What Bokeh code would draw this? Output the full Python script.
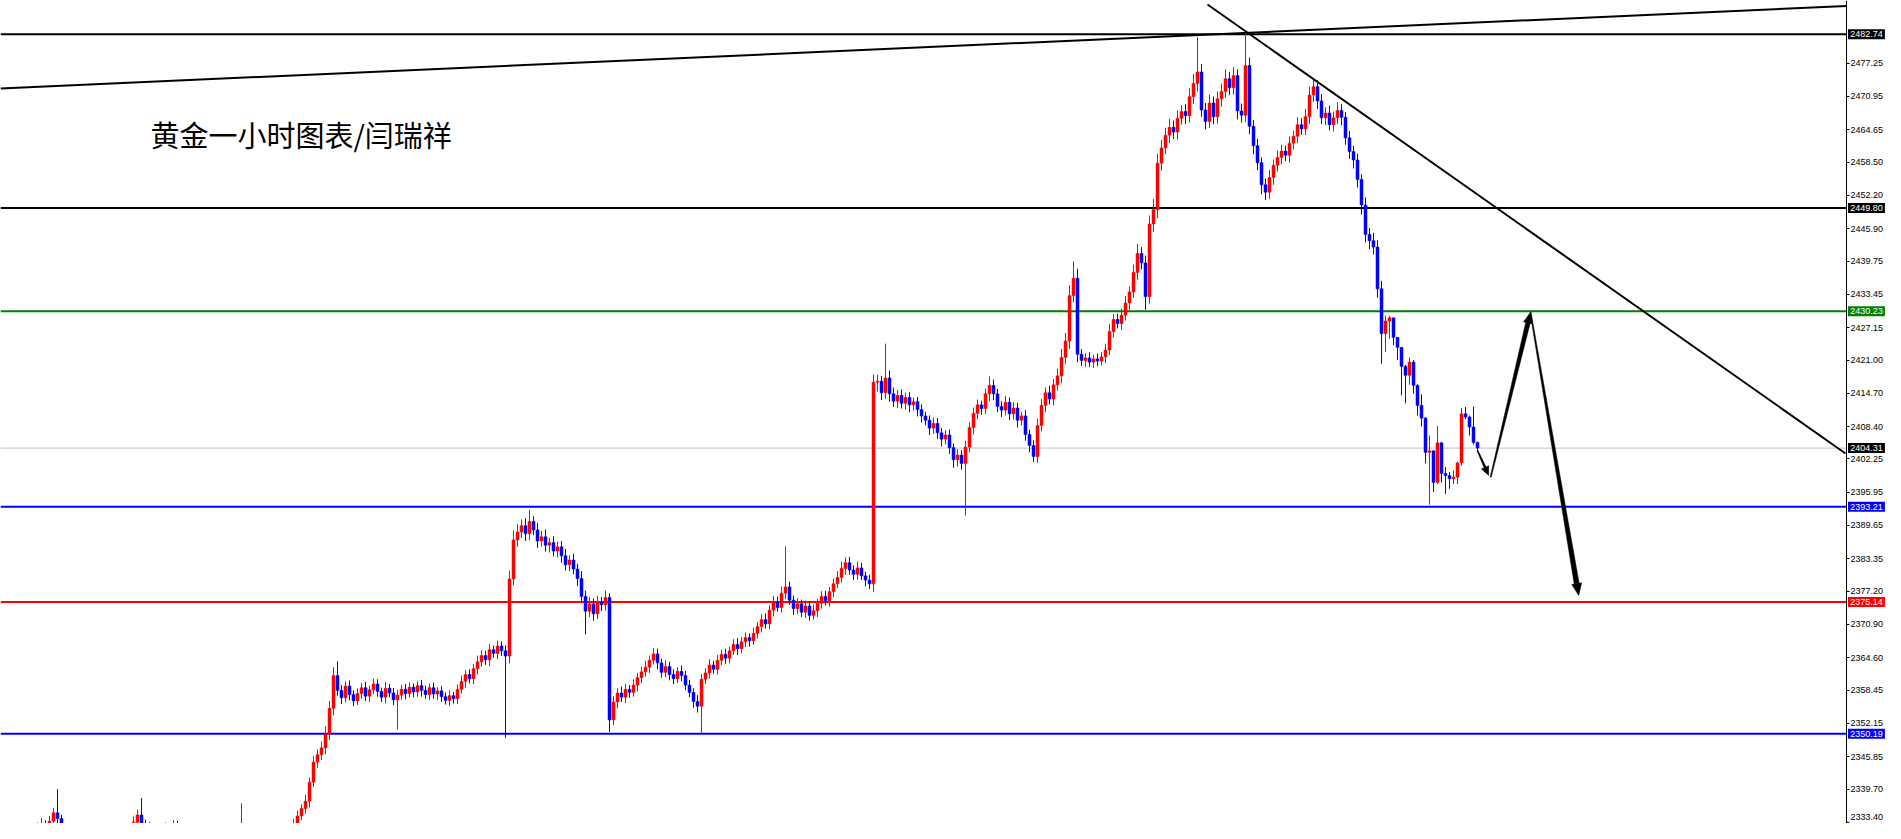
from bokeh.plotting import figure
from bokeh.models import Range1d, FixedTicker, NumeralTickFormatter, Label, LinearAxis
from bokeh.embed import file_html
from bokeh.resources import INLINE
from bokeh.core.properties import value

# ---------------- data (hourly gold candles) ----------------
first_open = 2327.0
closes = [
    2327.5, 2328.2, 2327.8, 2328.9, 2329.5, 2328.7, 2329.8, 2330.6, 2331.2, 2332.4,
    2333.0, 2331.8, 2333.6, 2335.2, 2334.1, 2332.0, 2330.5, 2329.1, 2327.8, 2326.9,
    2326.2, 2327.0, 2326.5, 2325.8, 2326.8, 2327.5, 2326.9, 2327.9, 2328.6, 2327.4,
    2328.3, 2329.6, 2331.0, 2333.4, 2334.8, 2333.2, 2331.5, 2332.6, 2331.4, 2332.1,
    2331.3, 2332.5, 2331.9, 2333.0, 2332.2, 2331.1, 2331.8, 2330.9, 2332.4, 2331.6,
    2330.8, 2331.5, 2330.4, 2329.9, 2330.6, 2331.2, 2330.3, 2329.8, 2330.7, 2331.4,
    2332.0, 2330.9, 2330.2, 2329.6, 2330.4, 2329.9, 2330.8, 2331.3, 2330.5, 2331.0,
    2331.6, 2332.3, 2331.7, 2333.2, 2334.6, 2336.0, 2337.4, 2341.0, 2344.8, 2346.2,
    2347.5, 2350.1, 2355.0, 2361.2, 2358.4, 2357.0, 2359.2, 2357.6, 2356.4, 2357.8,
    2358.9, 2357.3, 2358.5, 2359.6, 2358.2, 2357.1, 2358.8, 2357.9, 2356.6, 2357.5,
    2358.6, 2357.8, 2359.0, 2358.1, 2359.3, 2358.4, 2357.6, 2358.9, 2357.7, 2358.3,
    2357.2, 2356.5, 2357.4, 2356.8, 2358.6, 2360.1, 2361.4, 2360.6, 2362.5, 2363.8,
    2365.0, 2364.2, 2366.1, 2365.4, 2366.8, 2365.9, 2364.9, 2379.5, 2386.9, 2388.4,
    2389.6, 2388.1, 2390.4, 2388.8, 2386.7, 2387.5, 2385.9, 2386.4, 2384.8, 2385.6,
    2383.9, 2382.2, 2383.1, 2381.4, 2379.6, 2376.2, 2373.4, 2374.8, 2372.9, 2375.1,
    2374.6, 2376.0, 2352.8, 2356.2, 2357.9, 2357.1, 2358.6, 2358.0, 2359.4, 2360.8,
    2361.9, 2362.8, 2364.1, 2365.3, 2363.6, 2361.8, 2362.9, 2361.4, 2360.6, 2362.0,
    2361.2, 2359.4, 2358.0, 2356.3, 2355.4, 2360.5, 2361.7, 2363.2, 2362.4, 2364.1,
    2365.2, 2364.5, 2365.9, 2367.1, 2366.3, 2367.6, 2368.4, 2367.8, 2369.2, 2370.5,
    2371.8, 2371.0, 2373.6, 2375.2, 2374.1, 2376.8, 2378.0, 2375.5, 2373.9, 2374.8,
    2373.2, 2374.4, 2372.6, 2373.5, 2374.9, 2376.2, 2375.4, 2377.1, 2378.6, 2379.8,
    2381.5, 2382.6, 2381.2, 2380.4, 2381.6, 2380.1, 2379.3, 2378.6, 2416.8, 2417.0,
    2414.8, 2417.6, 2414.6, 2413.2, 2414.3, 2412.8, 2413.9, 2412.5, 2413.1, 2411.6,
    2410.4, 2409.6, 2408.1, 2409.0, 2407.2, 2406.0, 2406.8, 2404.4, 2402.1, 2403.0,
    2401.4, 2404.5, 2408.2, 2410.9, 2412.5, 2411.8, 2414.6, 2416.2, 2414.6, 2412.2,
    2411.5, 2413.0, 2410.8, 2411.9, 2409.6, 2410.4, 2406.9, 2404.8, 2402.7, 2408.6,
    2412.4, 2414.8, 2413.6, 2416.3, 2418.0, 2421.5, 2424.6, 2433.2, 2436.5, 2422.1,
    2420.9, 2421.4, 2420.6, 2421.2, 2420.8, 2421.6, 2422.9, 2426.4, 2428.7, 2427.9,
    2429.5, 2431.8, 2433.9, 2437.6, 2441.2, 2439.4, 2433.0, 2446.8, 2449.5, 2458.3,
    2461.2, 2463.6, 2465.1, 2464.2, 2466.8, 2468.1, 2467.3, 2470.9, 2473.4, 2475.6,
    2468.4, 2466.2, 2469.7, 2467.1, 2470.5, 2471.9, 2474.3, 2472.6, 2474.9, 2468.2,
    2467.4, 2476.8, 2465.3, 2461.6, 2458.4, 2454.2, 2452.8, 2455.6, 2457.9, 2459.4,
    2460.6, 2459.8, 2462.1, 2463.4, 2465.6, 2464.8, 2467.1, 2471.2, 2472.8, 2470.1,
    2466.9, 2467.8, 2465.6, 2466.9, 2468.3, 2467.0, 2463.1, 2460.5, 2458.9, 2455.2,
    2450.4, 2444.8, 2443.6, 2442.4, 2434.5,
    2426.0, 2428.4, 2429.0, 2425.3, 2423.4, 2419.8, 2418.1, 2420.6, 2416.2, 2412.4,
    2410.0, 2403.5, 2403.8, 2397.8, 2405.3, 2399.5, 2399.1, 2398.5, 2398.8, 2401.5,
    2410.8, 2410.2, 2408.3, 2405.4, 2404.31,
]
up_wick = [
    0.8, 0.6, 0.9, 0.7, 0.5, 0.8, 0.6, 0.9, 0.7, 1.0,
    1.2, 0.8, 1.0, 0.9, 4.5, 0.7, 0.6, 0.8, 0.5, 0.7,
    0.6, 0.9, 0.5, 0.7, 0.8, 0.6, 0.9, 0.7, 0.8, 0.6,
    0.7, 0.9, 0.8, 1.1, 1.0, 3.2, 0.7, 0.9, 0.6, 0.8,
    0.7, 0.9, 0.6, 0.8, 0.7, 0.6, 0.9, 0.7, 0.8, 0.6,
    0.7, 0.8, 0.6, 0.9, 0.7, 0.8, 0.6, 0.7, 0.9, 0.8,
    5.0, 0.7, 0.6, 0.8, 0.9, 0.7, 0.6, 0.8, 0.7, 0.9,
    0.6, 0.8, 0.7, 0.9, 1.0, 0.8, 1.2, 0.9, 1.1, 1.0,
    1.2, 1.5, 1.4, 1.6, 2.7, 1.0, 0.9, 1.1, 0.8, 1.0,
    0.9, 1.1, 0.8, 1.0, 0.9, 0.7, 1.2, 0.8, 0.9, 1.0,
    0.8, 1.0, 0.9, 0.7, 0.8, 1.1, 0.9, 0.8, 1.0, 0.7,
    0.9, 0.8, 1.0, 0.7, 0.9, 1.1, 0.8, 1.0, 0.9, 1.2,
    1.0, 0.9, 1.1, 0.8, 1.0, 0.9, 1.0, 1.6, 1.8, 1.5,
    1.2, 1.4, 2.2, 1.0, 1.3, 1.1, 1.4, 0.9, 1.2, 1.0,
    1.1, 1.3, 0.9, 1.2, 1.0, 1.4, 1.1, 1.3, 1.0, 1.2,
    1.0, 1.3, 0.8, 1.1, 0.9, 1.2, 1.0, 0.8, 1.1, 0.9,
    1.0, 1.2, 0.9, 1.1, 1.0, 0.8, 1.2, 0.9, 1.0, 0.8,
    1.1, 0.9, 1.0, 0.8, 1.2, 1.0, 0.9, 1.1, 0.8, 1.0,
    0.9, 1.1, 0.8, 1.0, 1.2, 0.9, 1.0, 0.8, 1.1, 0.9,
    1.0, 1.2, 0.9, 1.1, 1.0, 1.3, 7.7, 1.0, 0.9, 1.1,
    0.8, 1.0, 0.9, 1.2, 0.8, 1.0, 1.1, 0.9, 1.0, 1.2,
    1.3, 1.0, 1.1, 0.9, 1.2, 1.0, 0.8, 1.0, 1.5, 1.2,
    1.0, 6.5, 1.4, 1.2, 1.0, 1.1, 0.9, 1.0, 0.8, 0.9,
    1.0, 0.8, 0.9, 1.1, 1.0, 0.9, 0.9, 1.0, 0.8, 1.1,
    0.9, 1.2, 1.0, 1.1, 1.0, 0.8, 1.0, 1.7, 1.1, 0.9,
    1.0, 1.2, 0.9, 1.1, 1.0, 0.8, 1.1, 0.9, 1.0, 1.3,
    1.2, 1.0, 1.3, 1.1, 1.4, 1.6, 1.5, 2.0, 3.2, 1.8,
    1.0, 0.9, 1.1, 0.8, 1.0, 0.9, 1.2, 1.4, 1.0, 1.1,
    1.2, 1.3, 1.0, 1.5, 1.8, 1.2, 1.4, 1.6, 2.0, 1.8,
    1.5, 1.4, 1.6, 1.3, 1.5, 1.2, 1.4, 1.6, 1.8, 6.6,
    1.5, 1.3, 1.6, 1.2, 1.4, 1.5, 1.8, 1.3, 1.6, 1.2,
    1.4, 6.1, 1.5, 1.2, 1.3, 1.0, 1.2, 1.4, 1.1, 1.3,
    1.2, 1.0, 1.3, 1.1, 1.4, 1.2, 1.5, 1.6, 1.4, 1.2,
    1.3, 1.1, 1.4, 1.2, 1.5, 1.2, 1.0, 1.3, 1.1, 1.2,
    1.0, 1.4, 1.2, 1.5, 1.3,
    1.5, 1.0, 0.4, 0.0, 0.0, 0.0, 0.3, 0.9, 0.4, 0.2,
    2.1, 0.2, 2.9, 0.0, 3.2, 0.2, 1.2, 0.7, 1.3, 0.2,
    1.1, 1.3, 0.3, 3.9, 0.1,
]
dn_wick = [
    0.7, 0.8, 0.6, 0.9, 0.7, 0.8, 0.6, 0.7, 0.9, 0.8,
    0.9, 1.0, 0.7, 0.8, 0.9, 0.7, 0.8, 0.6, 0.9, 0.7,
    0.8, 0.6, 0.9, 0.7, 0.8, 0.6, 0.7, 0.9, 0.8, 0.6,
    0.7, 0.8, 0.9, 0.6, 0.8, 0.9, 0.7, 0.8, 0.6, 0.9,
    0.8, 0.7, 0.9, 0.6, 0.8, 0.7, 0.9, 0.8, 0.6, 0.7,
    0.9, 0.7, 0.8, 0.6, 0.9, 0.7, 0.8, 0.9, 0.6, 0.8,
    0.7, 0.9, 0.8, 0.6, 0.7, 0.9, 0.8, 0.7, 0.6, 0.8,
    0.9, 0.7, 0.8, 0.6, 0.9, 0.8, 1.0, 1.2, 0.9, 1.1,
    1.0, 1.2, 1.1, 1.3, 1.0, 1.2, 0.9, 1.1, 1.0, 0.8,
    1.0, 0.9, 1.1, 0.8, 1.0, 0.9, 1.2, 0.8, 1.0, 5.6,
    0.9, 1.1, 0.8, 1.0, 0.9, 1.2, 0.8, 1.0, 0.9, 1.1,
    1.0, 0.8, 1.1, 0.9, 1.0, 0.8, 1.2, 0.9, 1.0, 1.1,
    0.9, 1.0, 1.2, 0.8, 1.1, 1.0, 15.5, 1.4, 1.2, 1.3,
    1.1, 1.4, 1.2, 1.0, 1.3, 1.1, 1.2, 1.4, 1.0, 1.2,
    1.3, 1.1, 1.2, 1.0, 1.4, 1.2, 4.4, 1.1, 1.3, 1.0,
    1.2, 1.1, 2.3, 1.0, 1.2, 0.9, 1.1, 1.0, 0.8, 1.2,
    1.0, 0.9, 1.1, 0.8, 1.2, 1.0, 0.9, 1.1, 1.0, 0.8,
    1.1, 1.0, 0.9, 1.2, 1.2, 5.4, 0.9, 1.1, 0.8, 1.0,
    0.9, 1.1, 1.0, 0.8, 1.2, 0.9, 1.0, 1.1, 0.8, 1.0,
    1.1, 0.9, 1.0, 1.2, 0.8, 1.0, 1.1, 0.9, 1.2, 1.0,
    0.9, 1.1, 1.0, 0.8, 1.2, 1.0, 0.9, 1.1, 1.0, 0.8,
    1.0, 1.2, 0.9, 1.1, 1.0, 0.8, 1.2, 1.0, 1.5, 1.8,
    1.4, 1.2, 1.5, 1.1, 1.3, 1.0, 1.2, 1.4, 1.1, 1.3,
    1.2, 1.0, 1.3, 1.1, 1.2, 1.4, 1.0, 1.2, 1.5, 1.3,
    1.2, 9.9, 1.0, 1.3, 1.1, 1.2, 1.0, 1.4, 1.2, 1.1,
    1.3, 1.0, 1.2, 1.1, 1.4, 1.0, 1.2, 1.3, 1.0, 1.2,
    1.1, 1.3, 1.0, 1.2, 1.1, 1.4, 1.2, 1.5, 1.3, 1.5,
    1.0, 1.2, 0.9, 1.1, 1.0, 0.8, 1.2, 1.0, 1.1, 0.9,
    1.2, 1.0, 1.3, 1.1, 1.4, 1.2, 2.5, 1.3, 1.5, 1.6,
    1.4, 1.2, 1.5, 1.3, 1.4, 1.2, 1.6, 1.3, 1.4, 1.5,
    1.3, 1.5, 1.2, 1.4, 1.3, 1.5, 1.2, 1.4, 1.3, 1.6,
    1.4, 1.3, 1.5, 1.6, 1.4, 1.8, 1.5, 1.3, 1.4, 1.2,
    1.3, 1.1, 1.4, 1.2, 1.3, 1.1, 1.2, 1.4, 1.3, 1.5,
    1.2, 1.4, 1.1, 1.3, 1.2, 1.5, 1.3, 1.4, 1.6, 1.5,
    1.8, 1.5, 1.6, 1.4, 1.7,
    5.7, 3.5, 3.4, 1.5, 2.4, 5.5, 5.3, 1.8, 1.6, 1.9,
    1.6, 2.1, 9.9, 1.8, 0.3, 1.7, 3.5, 1.9, 1.0, 1.3,
    0.5, 0.4, 1.6, 0.4, 0.6,
]

tick_values = [2477.25, 2470.95, 2464.65, 2458.50, 2452.20, 2445.90, 2439.75,
               2433.45, 2427.15, 2421.00, 2414.70, 2408.40, 2402.25, 2395.95,
               2389.65, 2383.35, 2377.20, 2370.90, 2364.60, 2358.45, 2352.15,
               2345.85, 2339.70]
edge_tick_value = 2333.40      # lowest tick, its label lifted so it stays inside the picture
edge_tick_text = "2333.40"

levels = [2482.74, 2449.80, 2430.23, 2404.31, 2393.21, 2375.14, 2350.19]
level_line_colors = ["#000000", "#000000", "#008000", "#c0c0c0", "#0000ff", "#ff0000", "#0000ff"]
level_line_widths = [2, 2, 2, 1, 2, 2, 2]
level_tag_colors = ["#000000", "#000000", "#008000", "#000000", "#0000ff", "#ff0000", "#0000ff"]
level_tag_texts = ["2482.74", "2449.80", "2430.23", "2404.31", "2393.21", "2375.14", "2350.19"]

# trend lines (bar index, price)
rising_line_x = [-0.25, 461.25]
rising_line_y = [2472.45, 2488.08]
falling_line_x = [301.5, 461.0]
falling_line_y = [2488.37, 2403.29]

# projected path arrows: (x0, y0) -> (x1, y1)
arrow_x0 = [369.0, 372.3, 382.25]
arrow_y0 = [2403.85, 2398.8, 2430.06]
arrow_x1 = [371.8, 382.25, 394.3]
arrow_y1 = [2399.12, 2430.06, 2376.38]

title_text = "黄金一小时图表/闫瑞祥"

# ---------------- figure ----------------
W, H = 1885, 823
X0, X1 = -0.25, 471.0          # whole canvas width (bar index units, 4 px per bar)
AXIS_X = 461.25                # where the price axis sits
Y0, Y1 = 2333.17, 2489.13

p = figure(width=W, height=H, output_backend="svg", toolbar_location=None,
           x_range=Range1d(X0, X1), y_range=Range1d(Y0, Y1),
           x_axis_location=None, y_axis_location=None,
           min_border_left=0, min_border_right=0, min_border_top=0, min_border_bottom=0)
p.background_fill_color = "white"
p.border_fill_color = "white"
p.outline_line_color = None
p.xgrid.visible = False
p.ygrid.visible = False

ax = LinearAxis(fixed_location=AXIS_X)
ax.ticker = FixedTicker(ticks=tick_values)
ax.formatter = NumeralTickFormatter(format="0.00")
ax.axis_line_color = "black"
ax.axis_line_width = 1
ax.major_tick_in = 0
ax.major_tick_out = 3
ax.minor_tick_out = 0
ax.minor_tick_in = 0
ax.major_label_standoff = 1
ax.major_label_text_font = "Liberation Sans"
ax.major_label_text_font_size = "9px"
ax.major_label_text_color = "black"
p.add_layout(ax, "right")

sx = W / (X1 - X0)
sy = H / (Y1 - Y0)

# lowest tick mark and its label, kept inside the canvas
p.segment(x0=[AXIS_X], y0=[edge_tick_value], x1=[AXIS_X + 3.0 / sx], y1=[edge_tick_value],
          line_color="black", line_width=1)
p.text(x=[AXIS_X + 4.0 / sx], y=[Y0 + 3.5 / sy], text=[edge_tick_text],
       text_font=value("Liberation Sans"), text_font_size="9px", text_color="black",
       text_baseline="bottom", text_align="left")

# levels (stop at the price axis)
p.segment(x0=[X0] * len(levels), y0=levels, x1=[AXIS_X] * len(levels), y1=levels,
          line_color=level_line_colors, line_width=level_line_widths)

# trend lines
p.line(rising_line_x, rising_line_y, line_color="black", line_width=2)
p.line(falling_line_x, falling_line_y, line_color="black", line_width=2)

# candles
n = len(closes)
opens = [first_open] + closes[:-1]
xs = list(range(n))
highs = [max(o, c) + u for o, c, u in zip(opens, closes, up_wick)]
lows = [min(o, c) - d for o, c, d in zip(opens, closes, dn_wick)]
cols = ["#ff0000" if c >= o else "#0000ff" for o, c in zip(opens, closes)]
tops = [max(o, c) for o, c in zip(opens, closes)]
bots = [min(o, c) for o, c in zip(opens, closes)]
p.segment(x0=xs, y0=lows, x1=xs, y1=highs, line_color=cols, line_width=1)
p.vbar(x=xs, width=0.75, top=tops, bottom=bots, fill_color=cols, line_color=cols, line_width=0.5)

# tapered arrows (drawn as patches)
widths0 = [1.0, 1.0, 1.0]
widths1 = [2.0, 4.5, 5.0]
head_len = [9.0, 11.0, 12.0]
head_w = [8.0, 9.0, 10.0]
for x0, y0, x1, y1, w0, w1, hl, hw in zip(arrow_x0, arrow_y0, arrow_x1, arrow_y1,
                                           widths0, widths1, head_len, head_w):
    px0, py0, px1, py1 = x0 * sx, y0 * sy, x1 * sx, y1 * sy
    dx, dy = px1 - px0, py1 - py0
    L = (dx * dx + dy * dy) ** 0.5
    ux, uy = dx / L, dy / L
    nx, ny = -uy, ux
    bx, by = px1 - ux * hl, py1 - uy * hl
    shaft = [(px0 + nx * w0 / 2, py0 + ny * w0 / 2), (bx + nx * w1 / 2, by + ny * w1 / 2),
             (bx - nx * w1 / 2, by - ny * w1 / 2), (px0 - nx * w0 / 2, py0 - ny * w0 / 2)]
    head = [(px1, py1), (bx + nx * hw / 2, by + ny * hw / 2), (bx - nx * hw / 2, by - ny * hw / 2)]
    for poly in (shaft, head):
        p.patch([q[0] / sx for q in poly], [q[1] / sy for q in poly],
                fill_color="black", line_color="black", line_width=0.5)

# title text
p.add_layout(Label(x=37.25, y=2463.9, text=title_text, text_font="Noto Sans CJK SC",
                   text_font_size="29px", text_color="#000000", text_baseline="middle"))

# price tags on the axis (box + white text)
tag_half = 5.0 / sy
tag_left = AXIS_X + 1.5 / sx
tag_right = X1 - 0.6 / sx
p.quad(left=[tag_left] * len(levels), right=[tag_right] * len(levels),
       bottom=[lv - tag_half for lv in levels], top=[lv + tag_half for lv in levels],
       fill_color=level_tag_colors, line_color=None)
p.text(x=[(tag_left + tag_right) / 2] * len(levels), y=levels, text=level_tag_texts,
       text_font=value("Liberation Sans"), text_font_size="9px", text_color="white",
       text_baseline="middle", text_align="center")

open("out.html", "w").write(file_html(p, INLINE))
